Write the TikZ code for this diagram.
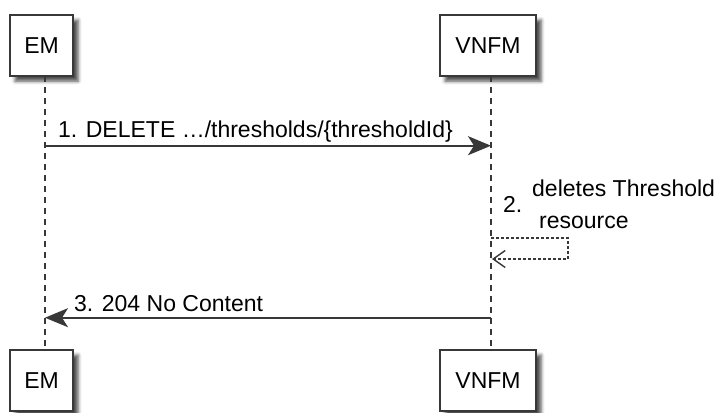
\documentclass[tikz,border=0pt]{standalone}
\usepackage{fontspec}
\setmainfont{Liberation Sans}
\usetikzlibrary{arrows.meta,shadows.blur}
\definecolor{ln}{HTML}{383838}
\tikzset{
  every node/.style={font=\fontsize{23}{27}\selectfont, text=black},
  actor/.style={draw=ln, line width=2.6pt, fill=white, rectangle, inner sep=0pt,
    minimum height=61pt,
    blur shadow={shadow xshift=5pt, shadow yshift=-5pt, shadow blur radius=3.5pt, shadow opacity=70}},
  lifeline/.style={draw=ln, line width=1.4pt, dash pattern=on 6pt off 5pt},
  msg/.style={draw=ln, line width=1.9pt, -{Stealth[length=23pt, width=19pt, inset=6pt]}},
  selfmsg/.style={draw=ln, line width=1.2pt, dash pattern=on 3pt off 2pt,
    -{Straight Barb[length=12pt, width=17pt, line width=1.4pt]}},
  lbl/.style={anchor=base west, inner sep=0pt}
}
\begin{document}
\begin{tikzpicture}[x=1pt,y=1pt]
\useasboundingbox (0,0) rectangle (719,-412);
% participants
\node[actor, minimum width=63pt] (emT) at (41.5,-45.5) {EM};
\node[actor, minimum width=96pt] (vnT) at (488,-45.5) {VNFM};
\node[actor, minimum width=63pt] (emB) at (41.5,-380.5) {EM};
\node[actor, minimum width=96pt] (vnB) at (488,-380.5) {VNFM};
% lifeline coordinates
\coordinate (emL1) at (45,-76);
\coordinate (emL2) at (45,-350);
\coordinate (vnL1) at (491,-76);
\coordinate (vnL2) at (491,-350);
\draw[lifeline] (emL1) -- (emL2);
\draw[lifeline] (vnL1) -- (vnL2);
% message 1
\coordinate (m1a) at (45,-145.7);
\coordinate (m1b) at (491,-145.7);
\draw[msg] (m1a) -- (m1b);
\node[lbl] (t1) at (58,-137) {1. DELETE \dots/thresholds/\{thresholdId\}};
% message 2 (self)
\coordinate (s2a) at (491,-238);
\coordinate (s2b) at (568,-238);
\coordinate (s2c) at (568,-259);
\coordinate (s2d) at (492,-259);
\draw[selfmsg] (s2a) -- (s2b) -- (s2c) -- (s2d);
\node[lbl] (t2n) at (503,-212) {2.};
\node[lbl] (t2a) at (532,-196) {deletes Threshold};
\node[lbl] (t2b) at (539,-228) {resource};
% message 3
\coordinate (m3a) at (491,-317.7);
\coordinate (m3b) at (45,-317.7);
\draw[msg] (m3a) -- (m3b);
\node[lbl] (t3) at (74,-311.7) {3. 204 No Content};
\end{tikzpicture}
\end{document}
